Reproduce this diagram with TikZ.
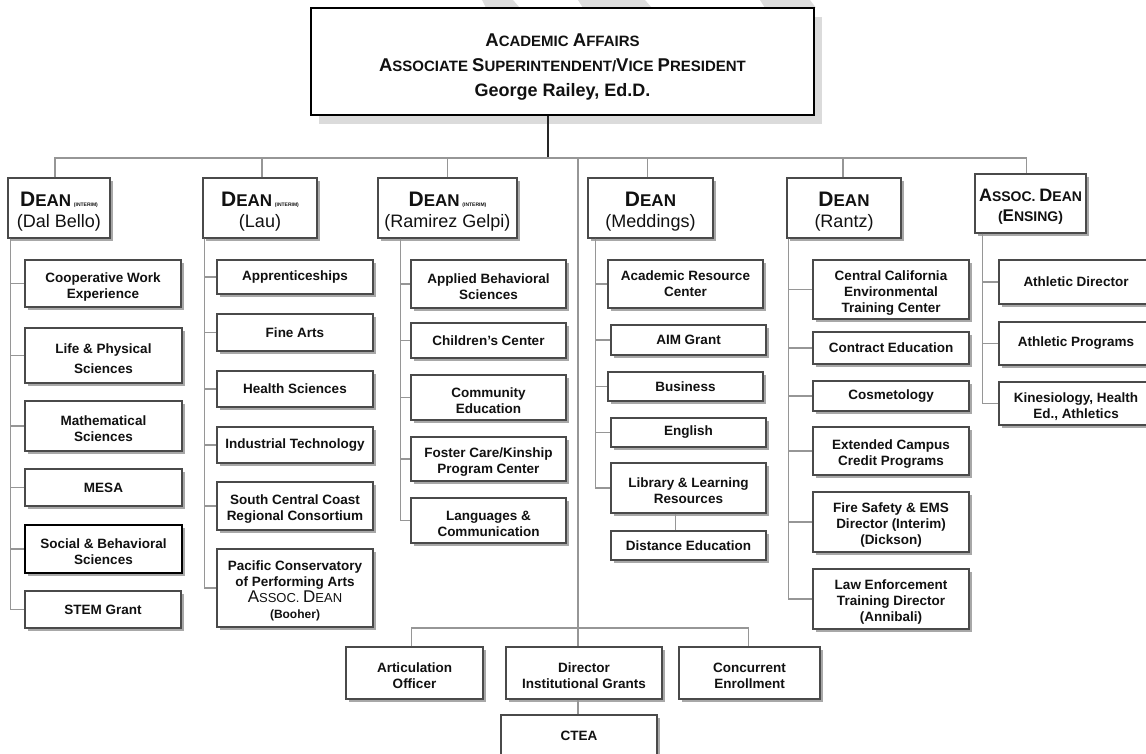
\documentclass[tikz,border=0pt]{standalone}
\usepackage{fontspec}
\setmainfont{Liberation Sans}
\usetikzlibrary{shadows,calc}
\definecolor{boxline}{HTML}{4A4A4A}
\definecolor{conncol}{HTML}{969696}
\definecolor{shadowcol}{HTML}{A8A8A8}
\definecolor{wmark}{HTML}{DDDDDD}
\definecolor{txt}{HTML}{111111}
\newcommand\fsz[1]{\fontsize{#1}{#1}\selectfont}
\newcommand\up[1]{\rule{0pt}{#1}}
\newcommand\sx{\rule{0pt}{16pt}}
\newcommand\deanhdr{{\bfseries\fsz{21}D\fsz{17}EAN}}
\newcommand\interim{{\bfseries\fontsize{5}{5}\selectfont\ \ (INTERIM)}}
\tikzset{
  corners/.style n args={4}{at={({(#1+#3)/2},{(#2+#4)/2})}, anchor=center,
    minimum width={#3-#1}, minimum height={#4-#2}},
  box/.style={draw=boxline, line width=1.4pt, fill=white, inner sep=0pt,
    align=center, text=txt, font=\bfseries\fontsize{13.5}{16}\selectfont,
    drop shadow={shadow xshift=3pt, shadow yshift=-3pt, fill=shadowcol, opacity=1}},
  deanbox/.style={box, font=\fontsize{18}{21}\selectfont},
  topbox/.style={draw=black, line width=2.2pt, fill=white, inner sep=0pt,
    align=center, text=txt, font=\bfseries\fontsize{15}{25}\selectfont,
    drop shadow={shadow xshift=8pt, shadow yshift=-9pt, fill=black!14, opacity=1}},
  conn/.style={draw=conncol, line width=1.3pt},
}
\begin{document}
\begin{tikzpicture}[x=1pt,y=-1pt]
\useasboundingbox (0,0) rectangle (1146,754);
% watermark fragments
\fill[wmark] (482,0) -- (513,0) -- (520,8) -- (486,8) -- cycle;
\fill[wmark] (578,0) -- (645,0) -- (652,8) -- (583,8) -- cycle;
\fill[wmark] (760,0) -- (810,0) -- (816,8) -- (765,8) -- cycle;

% top box
\node[topbox, corners={311}{8}{814}{115}] (top) {%
  \up{23pt}{\fsz{18.5}A}{\fsz{15}CADEMIC} {\fsz{18.5}A}{\fsz{15}FFAIRS}\\
  {\fsz{18.5}A}{\fsz{15}SSOCIATE} {\fsz{18.5}S}{\fsz{15}UPERINTENDENT/}{\fsz{18.5}V}{\fsz{15}ICE} {\fsz{18.5}P}{\fsz{15}RESIDENT}\\
  {\fsz{18}George Railey, Ed.D.}};

% dean boxes
\node[deanbox, corners={8}{178}{110}{238}] (d1) {\up{22pt}\deanhdr\interim\\(Dal Bello)};
\node[deanbox, corners={203}{178}{317}{238}] (d2) {\up{22pt}\deanhdr\interim\\(Lau)};
\node[deanbox, corners={378}{178}{517}{238}] (d3) {\up{22pt}\deanhdr\interim\\(Ramirez Gelpi)};
\node[deanbox, corners={588}{178}{713}{238}] (d4) {\up{22pt}\deanhdr\\(Meddings)};
\node[deanbox, corners={787}{178}{901}{238}] (d5) {\up{22pt}\deanhdr\\(Rantz)};
\node[deanbox, corners={975}{174}{1086}{233}, font=\bfseries\fontsize{14}{20}\selectfont] (d6)
  {\up{19pt}{\fsz{18}A}SSOC. {\fsz{18}D}EAN\\({\fsz{17}E}NSING)};

% column 1
\node[box, corners={25}{260}{181}{307}] (c11) {\sx Cooperative Work\\Experience};
\node[box, corners={25}{328}{182}{383}] (c12) {\sx Life \& Physical\\[4pt]Sciences};
\node[box, corners={25}{401}{182}{451}] (c13) {\sx Mathematical\\Sciences};
\node[box, corners={25}{469}{182}{506}] (c14) {MESA};
\node[box, corners={25}{525}{182}{573}, draw=black, line width=1.6pt] (c15) {\sx Social \& Behavioral\\Sciences};
\node[box, corners={25}{591}{181}{628}] (c16) {STEM Grant};

% column 2
\node[box, corners={217}{260}{373}{294}] (c21) {Apprenticeships};
\node[box, corners={217}{314}{373}{351}] (c22) {Fine Arts};
\node[box, corners={217}{371}{373}{407}] (c23) {Health Sciences};
\node[box, corners={217}{427}{373}{463}] (c24) {Industrial Technology};
\node[box, corners={217}{482}{373}{530}] (c25) {\sx South Central Coast\\Regional Consortium};
\node[box, corners={217}{549}{373}{627}] (c26) {\sx Pacific Conservatory\\of Performing Arts\\
  {\mdseries\fsz{17}A\fsz{13}SSOC. \fsz{17}D\fsz{13}EAN}\\{\fontsize{12}{14}\selectfont(Booher)}};

% column 3
\node[box, corners={411}{260}{566}{308}] (c31) {\sx Applied Behavioral\\Sciences};
\node[box, corners={411}{323}{566}{358}] (c32) {Children's Center};
\node[box, corners={411}{375}{566}{420}] (c33) {\sx Community\\Education};
\node[box, corners={411}{437}{566}{481}] (c34) {\sx Foster Care/Kinship\\Program Center};
\node[box, corners={411}{498}{566}{543}] (c35) {\sx Languages \&\\Communication};

% column 4
\node[box, corners={608}{260}{763}{308}] (c41) {Academic Resource\\Center};
\node[box, corners={611}{325}{766}{355}] (c42) {AIM Grant};
\node[box, corners={608}{372}{763}{401}] (c43) {Business};
\node[box, corners={611}{418}{766}{447}] (c44) {English};
\node[box, corners={611}{463}{766}{513}] (c45) {\sx Library \& Learning\\Resources};
\node[box, corners={611}{531}{766}{560}] (c46) {Distance Education};

% column 5
\node[box, corners={813}{260}{969}{319}] (c51) {\sx Central California\\Environmental\\Training Center};
\node[box, corners={813}{332}{969}{364}] (c52) {Contract Education};
\node[box, corners={813}{381}{969}{411}] (c53) {Cosmetology};
\node[box, corners={813}{427}{969}{475}] (c54) {\sx Extended Campus\\Credit Programs};
\node[box, corners={813}{492}{969}{552}] (c55) {\sx Fire Safety \& EMS\\Director (Interim)\\(Dickson)};
\node[box, corners={813}{569}{969}{629}] (c56) {\sx Law Enforcement\\Training Director\\(Annibali)};

% column 6
\node[box, corners={999}{260}{1153}{304}] (c61) {Athletic Director};
\node[box, corners={999}{322}{1153}{365}] (c62) {Athletic Programs};
\node[box, corners={999}{382}{1153}{425}] (c63) {\sx Kinesiology, Health\\Ed., Athletics};

% bottom
\node[box, corners={346}{647}{483}{699}] (b1) {\sx Articulation\\Officer};
\node[box, corners={506}{647}{662}{699}] (b2) {\sx Director\\Institutional Grants};
\node[box, corners={679}{647}{820}{699}] (b3) {\sx Concurrent\\Enrollment};
\node[box, corners={501}{715}{657}{757}] (b4) {CTEA};

% connectors: top to bus
\coordinate (tb) at (548,158);
\coordinate (bus) at (0,158);
\coordinate (cb) at (578,628);
\draw[line width=1.2pt, black!85] (top.south -| tb) -- (tb);
\draw[conn] ([xshift=-4pt]d1.north) -- ([xshift=-4pt]d1.north |- bus) -- ([xshift=-4pt]d6.north |- bus) -- ([xshift=-4pt]d6.north);
\draw[conn] ([xshift=2pt]d2.north) -- ([xshift=2pt]d2.north |- bus);
\draw[conn] (d3.north) -- (d3.north |- bus);
\draw[conn] ([xshift=-3pt]d4.north) -- ([xshift=-3pt]d4.north |- bus);
\draw[conn] ([xshift=-1pt]d5.north) -- ([xshift=-1pt]d5.north |- bus);
\draw[conn] (cb |- bus) -- (cb);

% column spines
\foreach \c in {c11,c12,c13,c14,c15,c16}
  \draw[conn] ([xshift=3pt]d1.south west) |- (\c.west);
\foreach \c in {c21,c22,c23,c24,c25,c26}
  \draw[conn] ([xshift=2pt]d2.south west) |- (\c.west);
\foreach \c in {c31,c32,c33,c34,c35}
  \draw[conn] ([xshift=23pt]d3.south west) |- (\c.west);
\foreach \c in {c41,c42,c43,c44,c45}
  \draw[conn] ([xshift=8pt]d4.south west) |- (\c.west);
\draw[conn] ([xshift=65pt]c45.south west) -- ([xshift=65pt]c45.south west |- c46.north);
\foreach \c in {c51,c52,c53,c54,c55,c56}
  \draw[conn] ([xshift=2pt]d5.south west) |- (\c.west);
\foreach \c in {c61,c62,c63}
  \draw[conn] ([xshift=8pt]d6.south west) |- (\c.west);

% bottom group
\draw[conn] ([xshift=-3pt]b1.north) |- (cb) -| ([xshift=-1pt]b3.north);
\draw[conn] (cb) -- (cb |- b2.north);
\draw[conn] (b2.south -| cb) -- (cb |- b4.north);
\end{tikzpicture}
\end{document}
